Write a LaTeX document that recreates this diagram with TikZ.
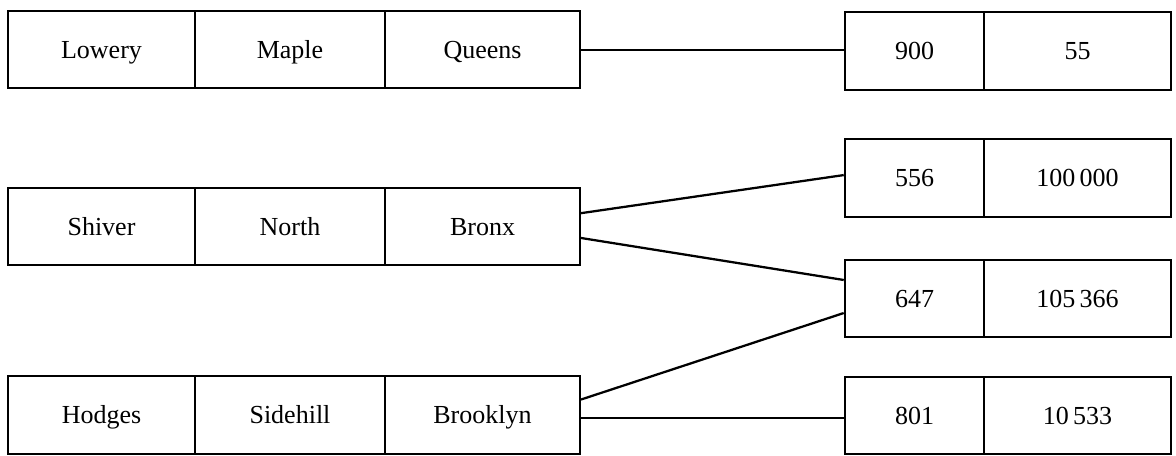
\documentclass[tikz,border=0pt]{standalone}
\usepackage{fontspec}
\setmainfont{Liberation Serif}
\begin{document}
\begin{tikzpicture}[x=0.75pt, y=-0.75pt,
  cell/.style={draw, line width=1.7pt, inner sep=0pt, minimum height=58pt,
    text height=12.9pt, text depth=0pt,
    font=\fontsize{19.5pt}{22pt}\selectfont},
  wa/.style={cell, minimum width=140.5pt},
  wb/.style={cell, minimum width=142.5pt},
  wc/.style={cell, minimum width=146pt},
  wn/.style={cell, minimum width=104.5pt},
  wv/.style={cell, minimum width=140pt},
  link/.style={line width=1.7pt}]
\useasboundingbox (0,0) rectangle (1176,455);

% owner records: name, street, borough
\node[wa] (lowery)   at (101.5,49.5)  {Lowery};
\node[wb] (maple)    at (290,49.5)    {Maple};
\node[wc] (queens)   at (482.5,49.5)  {Queens};

\node[wa] (shiver)   at (101.5,226.5) {Shiver};
\node[wb] (north)    at (290,226.5)   {North};
\node[wc] (bronx)    at (482.5,226.5) {Bronx};

\node[wa] (hodges)   at (101.5,415) {Hodges};
\node[wb] (sidehill) at (290,415)   {Sidehill};
\node[wc] (brooklyn) at (482.5,415) {Brooklyn};

% property records: number, value
\node[wn] (n900) at (914.5,51)   {900};
\node[wv] (v900) at (1077.5,51)  {55};

\node[wn] (n556) at (914.5,178)  {556};
\node[wv] (v556) at (1077.5,178) {100\,000};

\node[wn] (n647) at (914.5,298.5)  {647};
\node[wv] (v647) at (1077.5,298.5) {105\,366};

\node[wn] (n801) at (914.5,415.5)  {801};
\node[wv] (v801) at (1077.5,415.5) {10\,533};

% links between owners and properties
\draw[link] ([yshift=-0.5pt]queens.east) -- ([yshift=-0.5pt]queens.east -| n900.west);
\draw[link] ([yshift=10pt]bronx.east) -- ([yshift=2.2pt]n556.west);
\draw[link] ([yshift=-8.6pt]bronx.east) -- ([yshift=13.9pt]n647.west);
\draw[link] ([yshift=11.6pt]brooklyn.east) -- ([yshift=-10.9pt]n647.west);
\draw[link] ([yshift=-2pt]brooklyn.east) -- ([yshift=-2pt]brooklyn.east -| n801.west);
\end{tikzpicture}
\end{document}
